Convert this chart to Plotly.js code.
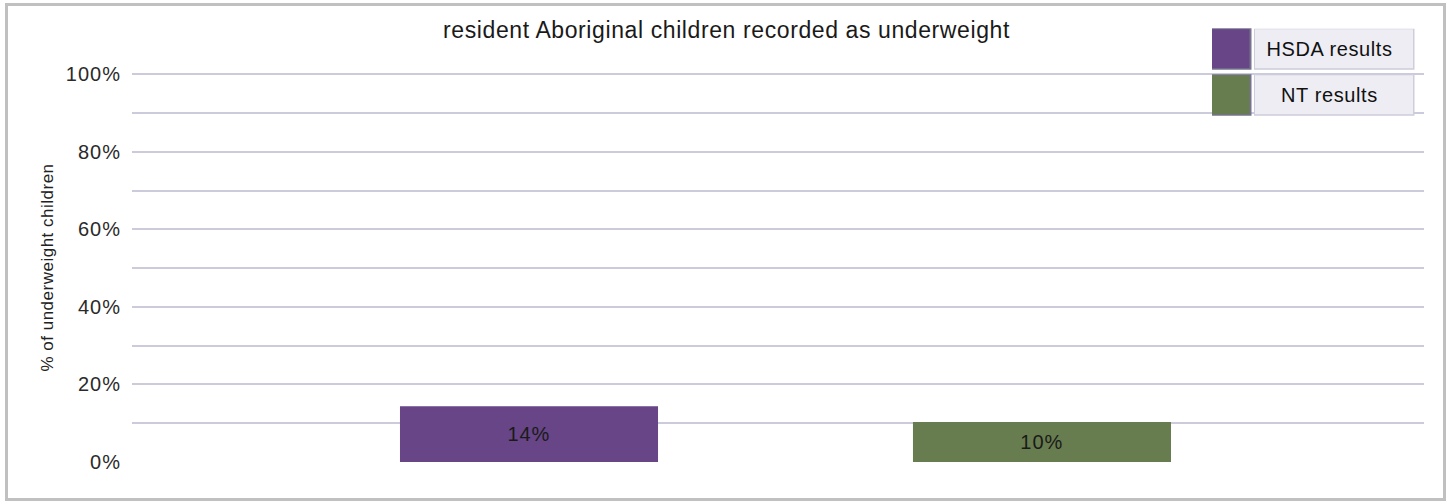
<!DOCTYPE html>
<html>
<head>
<meta charset="utf-8">
<script src="https://cdn.plot.ly/plotly-3.0.1.min.js"></script>
<style>
  html, body { margin: 0; padding: 0; background: #fff; }
  #chart { position: absolute; left: 0; top: 0; width: 1453px; height: 502px; }
  #frame { position: absolute; left: 5px; top: 3px; width: 1441px; height: 498px;
           box-sizing: border-box; border: 3px solid #c0c0c0; pointer-events: none; }
  #chart .gtitle { letter-spacing: 0.6px; }
  #chart .ytick text { letter-spacing: 1px; }
  #chart .ytitle { letter-spacing: 0.5px; }
  #chart .bartext { letter-spacing: 1px; }
  #chart .annotation-text { letter-spacing: 0.6px; }
</style>
</head>
<body>
<div id="chart"></div>
<div id="frame"></div>
<script>
// ---- data ----
const category = [''];
const seriesNames = ['HSDA results', 'NT results'];
const hsdaValues = [14.4];
const ntValues = [10.3];
const hsdaLabels = ['14%'];
const ntLabels = ['10%'];
const yTickValues = [0, 10, 20, 30, 40, 50, 60, 70, 80, 90, 100];
const yTickLabels = ['0%', '', '20%', '', '40%', '', '60%', '', '80%', '', '100%'];
const chartTitle = 'resident Aboriginal children recorded as underweight';
const yTitle = '% of underweight children';

// ---- style ----
const colors = ['#674586', '#677d4f'];
const yMax = 100.3;
const M = { l: 132, r: 29, t: 74 - 3.88 * (yMax - 100), b: 40 };
const W = 1453, H = 502;
const PW = W - M.l - M.r, PH = H - M.t - M.b;
const px = x => (x - M.l) / PW;
const py = y => (H - M.b - y) / PH;

const seriesValues = [hsdaValues, ntValues];
const seriesLabels = [hsdaLabels, ntLabels];

const traces = seriesNames.map((name, i) => ({
  type: 'bar',
  name: name,
  x: category,
  y: seriesValues[i],
  text: seriesLabels[i],
  textposition: 'inside',
  insidetextanchor: 'middle',
  textangle: 0,
  constraintext: 'none',
  textfont: { family: 'Liberation Sans, Arial, sans-serif', size: 20, color: '#1a1a1a' },
  marker: { color: colors[i], line: { width: 0 } },
  hoverinfo: 'skip'
}));

// legend drawn as boxes like the original
const shapes = [];
const annotations = [];
const legTop = 29, legStep = 46;
seriesNames.forEach((name, i) => {
  const t = legTop + i * legStep;
  shapes.push({ type: 'rect', xref: 'paper', yref: 'paper', x0: px(1212), x1: px(1251.5), y0: py(t - 1), y1: py(t + 40.5),
    fillcolor: '#76738f', line: { width: 0 } });
  shapes.push({ type: 'rect', xref: 'paper', yref: 'paper', x0: px(1212), x1: px(1249.5), y0: py(t), y1: py(t + 39),
    fillcolor: colors[i], line: { width: 0 } });
  shapes.push({ type: 'rect', xref: 'paper', yref: 'paper', x0: px(1254), x1: px(1414.5), y0: py(t - 0.5), y1: py(t + 40.5),
    fillcolor: '#cdcddb', line: { width: 0 } });
  shapes.push({ type: 'rect', xref: 'paper', yref: 'paper', x0: px(1255), x1: px(1413), y0: py(t), y1: py(t + 39),
    fillcolor: '#ededf3', line: { width: 0 } });
  annotations.push({ xref: 'paper', yref: 'paper', x: px(1329), y: py(t + 20), xanchor: 'center', yanchor: 'middle',
    text: name, showarrow: false,
    font: { family: 'Liberation Sans, Arial, sans-serif', size: 20, color: '#111' } });
});

const layout = {
  width: W, height: H,
  margin: M,
  paper_bgcolor: '#ffffff',
  plot_bgcolor: '#ffffff',
  showlegend: false,
  barmode: 'group',
  bargap: 0.2059,
  bargroupgap: 0.497,
  title: {
    text: chartTitle,
    xref: 'container', x: 0.5, xanchor: 'center',
    yref: 'container', y: 1 - 30 / H, yanchor: 'middle',
    font: { family: 'Liberation Sans, Arial, sans-serif', size: 23, color: '#1a1a1a' }
  },
  xaxis: {
    type: 'category',
    range: [-0.5058, 0.4942],
    showticklabels: false, showgrid: false, zeroline: false, showline: false, ticks: ''
  },
  yaxis: {
    range: [0, yMax],
    tickmode: 'array',
    tickvals: yTickValues,
    ticktext: yTickLabels,
    showgrid: true, gridcolor: '#cbcbdc', gridwidth: 2,
    zeroline: false, showline: false, ticks: '',
    ticklabelstandoff: 10,
    tickfont: { family: 'Liberation Sans, Arial, sans-serif', size: 20, color: '#2a2a2a' },
    title: { text: yTitle, standoff: 11,
      font: { family: 'Liberation Sans, Arial, sans-serif', size: 17, color: '#222' } }
  },
  shapes: shapes,
  annotations: annotations,
  hovermode: false
};

Plotly.newPlot('chart', traces, layout, { displayModeBar: false, staticPlot: true });
</script>
</body>
</html>
